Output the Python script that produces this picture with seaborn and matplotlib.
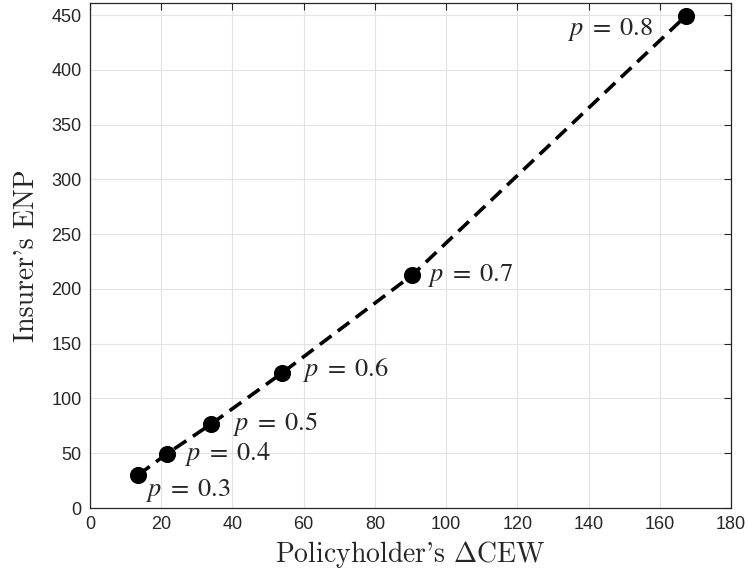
import numpy as np
import pandas as pd
import matplotlib
matplotlib.use("Agg")
import matplotlib.pyplot as plt
import seaborn as sns

sns.set_theme(style="whitegrid")
plt.rcParams["font.family"] = ["Liberation Sans", "DejaVu Sans"]
plt.rcParams["mathtext.fontset"] = "cm"
plt.rcParams["axes.unicode_minus"] = False

# ── Data ──────────────────────────────────────────────────
delta_cew = [13.5, 21.5, 33.9, 53.9, 90.5, 167.4]
insurer_enp = [30.1, 49.3, 76.4, 123.2, 212.7, 449.5]
p_values = ["0.3", "0.4", "0.5", "0.6", "0.7", "0.8"]

df = pd.DataFrame({"cew": delta_cew, "enp": insurer_enp, "p": p_values})

# label offsets in points (dx, dy) and alignment
offsets = [(6, -11, "left"), (13, 0, "left"), (16, 0, "left"),
           (15, 2, "left"), (11, 0, "left"), (-24, -10, "right")]

fig = plt.figure(figsize=(7.48, 5.81), dpi=100)
ax = fig.add_axes([0.1203, 0.1256, 0.8570, 0.8692])

sns.lineplot(data=df, x="cew", y="enp", ax=ax, color="black",
             linestyle=(0, (4, 2.2)), linewidth=2.6, sort=False)
sns.scatterplot(data=df, x="cew", y="enp", ax=ax, color="black",
                s=130, edgecolor="black", zorder=5)

for (x, y, p), (dx, dy, ha) in zip(zip(delta_cew, insurer_enp, p_values), offsets):
    ax.annotate(r"$p\;=\;%s$" % p, (x, y), xytext=(dx, dy),
                textcoords="offset points", ha=ha, va="center",
                fontsize=19, math_fontfamily="stix")

ax.set_xlim(0, 180)
ax.set_ylim(0, 461)
ax.set_xticks(np.arange(0, 181, 20))
ax.set_yticks(np.arange(0, 451, 50))

ax.grid(True, color="#e3e3e3", linewidth=0.8)
for s in ax.spines.values():
    s.set_color("#262626")
    s.set_linewidth(0.9)
ax.tick_params(direction="in", top=True, right=True, length=5,
               width=0.8, color="#262626", labelsize=13,
               labelcolor="#262626", pad=6)

ax.set_xlabel(r"Policyholder's $\Delta$CEW", fontsize=20, family="cmr10",
              color="#262626", labelpad=4)
ax.set_ylabel("Insurer's ENP", fontsize=20, family="cmr10",
              color="#262626", labelpad=8)

plt.savefig("out.png", dpi=100)
